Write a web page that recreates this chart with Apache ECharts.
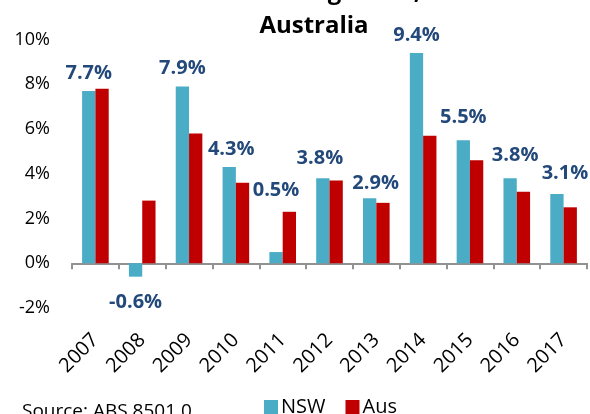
<!DOCTYPE html>
<html>
<head>
<meta charset="utf-8">
<script src="https://cdn.jsdelivr.net/npm/echarts@6/dist/echarts.min.js"></script>
<style>
  html, body { margin: 0; padding: 0; background: #fff; }
  #chart { width: 590px; height: 414px; }
</style>
</head>
<body>
<div id="chart"></div>
<script>
// Annual retail trade growth (%), NSW vs Australia
const years = ['2007', '2008', '2009', '2010', '2011', '2012', '2013', '2014', '2015', '2016', '2017'];
const nswGrowth = [7.7, -0.6, 7.9, 4.3, 0.5, 3.8, 2.9, 9.4, 5.5, 3.8, 3.1];
const ausGrowth = [7.8, 2.8, 5.8, 3.6, 2.3, 3.7, 2.7, 5.7, 4.6, 3.2, 2.5];
const yTicks = { min: -2, max: 10, step: 2 };

const FONT = "'Open Sans', 'DejaVu Sans', sans-serif";
const NSW_COLOR = '#4BACC6';
const AUS_COLOR = '#C00000';
const LABEL_COLOR = '#23497A';

// hand-placed value labels: [dx, dy] nudges per year
const labelNudge = {
  '2010': [2, 0], '2011': [0, -44], '2012': [-3, -2], '2013': [6, 3],
  '2015': [0, -5], '2016': [5, -5], '2017': [8, -3]
};

const nswData = nswGrowth.map((v, i) => {
  const n = labelNudge[years[i]] || [0, 0];
  return {
    value: v,
    label: {
      position: v < 0 ? 'bottom' : 'top',
      distance: v < 0 ? 16 : 8,
      offset: n
    }
  };
});

const chart = echarts.init(document.getElementById('chart'), null, { renderer: 'canvas' });

chart.setOption({
  animation: false,
  backgroundColor: '#ffffff',
  textStyle: { fontFamily: FONT },
  grid: { left: 72, right: 3, top: 39.5, bottom: 106 },
  graphic: [
    {
      type: 'text', x: 314, y: -8,
      style: { text: 'Annual retail trade growth, NSW and', font: 'bold 24px ' + FONT,
               fill: '#000', textAlign: 'center', textVerticalAlign: 'middle' }
    },
    {
      type: 'text', x: 314, y: 26,
      style: { text: 'Australia', font: 'bold 24px ' + FONT,
               fill: '#000', textAlign: 'center', textVerticalAlign: 'middle' }
    },
    {
      type: 'text', x: 22, y: 412,
      style: { text: 'Source: ABS 8501.0', font: '19px ' + FONT,
               fill: '#000', textAlign: 'left', textVerticalAlign: 'middle' }
    }
  ],
  legend: {
    data: ['NSW', 'Aus'],
    left: 259, top: 392,
    icon: 'rect', itemWidth: 14, itemHeight: 14, itemGap: 20,
    textStyle: { fontFamily: FONT, fontSize: 20, color: '#000', padding: [0, 0, 0, -2] }
  },
  xAxis: [
    {
      type: 'category',
      data: years,
      axisLine: { onZero: true, lineStyle: { color: '#929292', width: 2 } },
      axisTick: { show: true, length: 6, lineStyle: { color: '#929292', width: 2 } },
      axisLabel: { show: false },
      splitLine: { show: false }
    },
    {
      type: 'category',
      data: years,
      position: 'bottom',
      axisLine: { show: false, onZero: false },
      axisTick: { show: false },
      axisLabel: { rotate: 45, margin: 29, fontSize: 20, fontFamily: FONT, color: '#000' },
      splitLine: { show: false }
    }
  ],
  yAxis: {
    type: 'value',
    min: yTicks.min, max: yTicks.max, interval: yTicks.step,
    axisLine: { show: false },
    axisTick: { show: false },
    splitLine: { show: false },
    axisLabel: { formatter: '{value}%', fontSize: 18, fontFamily: FONT, color: '#000', margin: 22 }
  },
  series: [
    {
      name: 'NSW', type: 'bar', xAxisIndex: 0,
      data: nswData,
      barWidth: 13.3, barGap: '0%',
      itemStyle: { color: NSW_COLOR },
      label: {
        show: true,
        formatter: p => p.value.toFixed(1) + '%',
        fontFamily: FONT, fontSize: 20, fontWeight: 'bold', color: LABEL_COLOR
      }
    },
    {
      name: 'Aus', type: 'bar', xAxisIndex: 0,
      data: ausGrowth,
      barWidth: 13.3, barGap: '0%',
      itemStyle: { color: AUS_COLOR }
    }
  ]
});
</script>
</body>
</html>
